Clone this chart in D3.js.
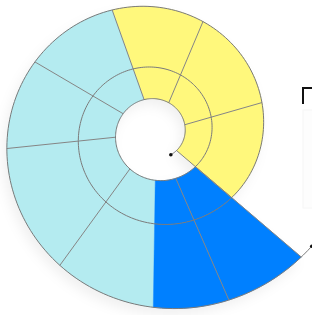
<!DOCTYPE html>
<html>
<head>
<meta charset="utf-8">
<script src="https://cdn.jsdelivr.net/npm/d3@7"></script>
<style>
  html, body { margin: 0; padding: 0; background: #fff; overflow: hidden; }
</style>
</head>
<body>
<div id="chart"></div>
<script>
// share of one turn taken by each segment (one turn = 100)
var segmentValues = [15.7, 14.2, 11.8, 11.1, 10.1, 13.35, 9.75, 6.8, 7.2];
var segmentGroup  = [0, 0, 0, 1, 1, 1, 1, 2, 2];
var groupColors   = ["#fff87c", "#b4ebf0", "#0080ff"];
var turns = 2;
var period = 100;
// positions along a turn where a divider line is drawn
var dividerTicks = [0, 15.7, 29.9, 41.7, 52.8, 62.9, 76.25, 92.8, 100];
// extent of the spiral axis line, same units
var axisExtent = [-4.2, 301.25];

var width = 312, height = 315;
var cx = 156, cy = 133;
var r0 = 27, rEnd = 191;            // radius at 0 and after 3 turns
var startAngle = 40.5 * Math.PI / 180;

var svg = d3.select('#chart').append('svg')
  .attr('width', width)
  .attr('height', height);

var defs = svg.append('defs');
defs.append('filter')
  .attr('id', 'shadow')
  .attr('x', '-20%').attr('y', '-20%').attr('width', '140%').attr('height', '140%')
  .append('feDropShadow')
  .attr('dx', -4).attr('dy', 6)
  .attr('stdDeviation', 6)
  .attr('flood-color', '#000')
  .attr('flood-opacity', 0.06);

// angle runs counter clockwise on screen, radius grows exponentially
var angle = d3.scaleLinear().domain([0, period]).range([startAngle, startAngle - 2 * Math.PI]);
var radiusLog = d3.scaleLog().domain([r0, rEnd]).range([0, 3 * period]);

function pt(v){
  var a = angle(v), r = radiusLog.invert(v);
  return [cx + r * Math.cos(a), cy + r * Math.sin(a)];
}
function samples(v0, v1){
  var n = Math.max(2, Math.ceil(Math.abs(v1 - v0) / 0.5));
  return d3.range(n + 1).map(function(i){ return v0 + (v1 - v0) * i / n; });
}
var line = d3.line();

// cells along the spiral strip
var starts = [0];
segmentValues.forEach(function(v, i){ starts.push(starts[i] + v); });
var cells = [];
for (var k = 0; k < turns; k++) {
  segmentValues.forEach(function(v, i){
    cells.push({ v0: k * period + starts[i], v1: k * period + starts[i] + v, group: segmentGroup[i] });
  });
}

var gCells = svg.append('g').attr('filter', 'url(#shadow)');
gCells.selectAll('path.cell')
  .data(cells)
  .enter().append('path')
  .attr('class', 'cell')
  .attr('d', function(d){
    var inner = samples(d.v0, d.v1).map(pt);
    var outer = samples(d.v1 + period, d.v0 + period).map(pt);
    return line(inner.concat(outer)) + 'Z';
  })
  .attr('fill', function(d){ return groupColors[d.group]; })
  .attr('stroke', function(d){ return groupColors[d.group]; })
  .attr('stroke-width', 0.4);

// radial dividers
var dividers = [];
for (var k2 = 0; k2 < turns; k2++) {
  dividerTicks.forEach(function(t){ dividers.push(k2 * period + t); });
}
svg.append('g').selectAll('line')
  .data(dividers)
  .enter().append('line')
  .attr('x1', function(d){ return pt(d)[0]; })
  .attr('y1', function(d){ return pt(d)[1]; })
  .attr('x2', function(d){ return pt(d + period)[0]; })
  .attr('y2', function(d){ return pt(d + period)[1]; })
  .attr('stroke', '#858585')
  .attr('stroke-width', 1);

// spiral axis
svg.append('path')
  .attr('d', line(samples(axisExtent[0], axisExtent[1]).map(pt)))
  .attr('fill', 'none')
  .attr('stroke', '#7a7a7a')
  .attr('stroke-width', 1);

svg.selectAll('circle.end')
  .data(axisExtent)
  .enter().append('circle')
  .attr('class', 'end')
  .attr('cx', function(d){ return pt(d)[0]; })
  .attr('cy', function(d){ return pt(d)[1]; })
  .attr('r', 1.8)
  .attr('fill', '#111');

// cut off panel at the right edge
svg.append('rect')
  .attr('x', 303).attr('y', 110)
  .attr('width', 20).attr('height', 98)
  .attr('fill', '#fdfdfd')
  .attr('stroke', '#f6f6f6');
svg.append('path')
  .attr('d', 'M303,104V88H313')
  .attr('fill', 'none')
  .attr('stroke', '#111')
  .attr('stroke-width', 2);
</script>
</body>
</html>
